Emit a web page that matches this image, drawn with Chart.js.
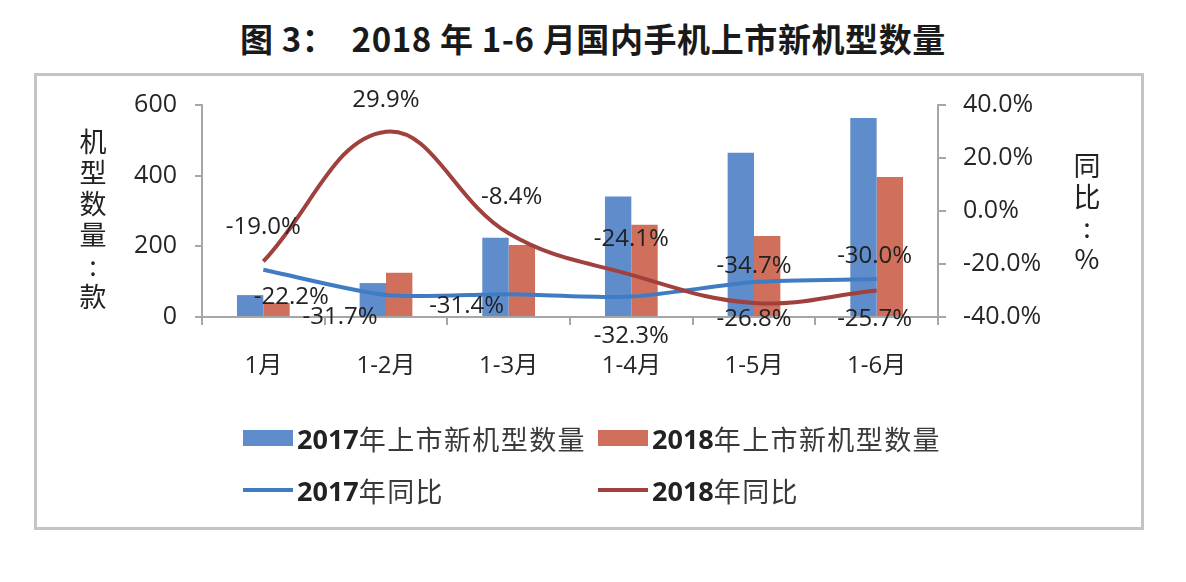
<!DOCTYPE html>
<html>
<head>
<meta charset="utf-8">
<script src="https://cdn.jsdelivr.net/npm/chart.js@4.4.1/dist/chart.umd.min.js"></script>
<style>
  html, body { margin: 0; padding: 0; background: #fff; }
  #wrap { position: relative; width: 1186px; height: 582px; overflow: hidden; }
  #chart { position: absolute; left: 0; top: 0; }
  .title {
    position: absolute; left: 0; top: 14px; width: 1186px; text-align: center;
    font: bold 33px "Noto Sans CJK SC", sans-serif; color: #1a1a1a; letter-spacing: 0.6px;
    white-space: pre;
  }
  .frame {
    position: absolute; left: 34px; top: 73px; width: 1110px; height: 457px;
    border: 3px solid #c4c4c4; box-sizing: border-box;
  }
  .axis-title {
    position: absolute; width: 40px; text-align: center; color: #222;
    font: 27px "Noto Sans CJK SC", sans-serif; line-height: 31px;
  }
  .legend-item {
    position: absolute; display: flex; align-items: center; height: 30px;
    font: 27px "Noto Sans CJK SC", sans-serif; color: #3a3a3a; white-space: nowrap;
  }
  .legend-item span.txt { letter-spacing: 1.4px; }
  .legend-item b { font: bold 27px "Open Sans", sans-serif; color: #222; }
  .swatch { display: inline-block; width: 50px; margin-right: 4px; }
</style>
</head>
<body>
<div id="wrap">
  <div class="frame"></div>
  <div class="title">图 3：  2018 年 1-6 月国内手机上市新机型数量</div>
  <canvas id="chart" width="1186" height="582"></canvas>
  <div class="axis-title" style="left:73px; top:125px;">机<br>型<br>数<br>量<br>:<br>款</div>
  <div class="axis-title" style="left:1067px; top:149px;">同<br>比<br>:<br>%</div>
  <div id="legend"></div>
</div>
<script>
// ======================================================
// DATA
// ======================================================

const periods = ["1月", "1-2月", "1-3月", "1-4月", "1-5月", "1-6月"];

// 上市新机型数量（款）
const models2017 = [62, 96, 224, 341, 465, 563];
const models2018 = [40, 125, 204, 261, 229, 396];

// 同比（%）
const yoy2017 = [-22.2, -31.7, -31.4, -32.3, -26.8, -25.7];
const yoy2018 = [-19.0, 29.9, -8.4, -24.1, -34.7, -30.0];

// axis ticks
const countTicks = { min: 0, max: 600, step: 200 };
const yoyTicks = { min: -40, max: 40, step: 20 };

// label offsets (px) relative to each line point
const offsets2017 = [[28, 27], [-46, 22], [-42, 12], [0, 40], [0, 37], [-2, 40]];
const offsets2018 = [[0, -34], [0, -32], [3, -36], [0, -36], [0, -37], [-2, -34]];

// ======================================================
// COLORS
// ======================================================

const BAR_2017 = "#5f8dcb";
const BAR_2018 = "#d0705c";
const LINE_2017 = "#3f7cc4";
const LINE_2018 = "#a0413e";
const AXIS_GRAY = "#a6a6a6";
const TEXT_DARK = "#262626";

Chart.defaults.font.family = '"Open Sans", "Noto Sans CJK SC", sans-serif';
Chart.defaults.color = TEXT_DARK;

// ======================================================
// DATA LABEL PLUGIN
// ======================================================

const pointLabels = {
  id: "pointLabels",
  afterDatasetsDraw(chart) {
    const ctx = chart.ctx;
    ctx.save();
    ctx.font = '24px "Open Sans", sans-serif';
    ctx.fillStyle = "#222222";
    ctx.textAlign = "center";
    ctx.textBaseline = "middle";
    chart.data.datasets.forEach((ds, i) => {
      if (!ds.labelOffsets) return;
      const meta = chart.getDatasetMeta(i);
      meta.data.forEach((pt, j) => {
        const [dx, dy] = ds.labelOffsets[j];
        ctx.fillText(ds.data[j].toFixed(1) + "%", pt.x + dx, pt.y + dy);
      });
    });
    ctx.restore();
  },
};

// ======================================================
// CHART
// ======================================================

const ctx = document.getElementById("chart").getContext("2d");

const chart = new Chart(ctx, {
  data: {
    labels: periods,
    datasets: [
      {
        type: "line",
        label: "2018年同比",
        data: yoy2018,
        yAxisID: "y1",
        borderColor: LINE_2018,
        borderWidth: 4,
        tension: 0.4,
        pointRadius: 0,
        fill: false,
        order: 1,
        labelOffsets: offsets2018,
      },
      {
        type: "line",
        label: "2017年同比",
        data: yoy2017,
        yAxisID: "y1",
        borderColor: LINE_2017,
        borderWidth: 4,
        tension: 0.25,
        pointRadius: 0,
        fill: false,
        order: 2,
        labelOffsets: offsets2017,
      },
      {
        type: "bar",
        label: "2017年上市新机型数量",
        data: models2017,
        yAxisID: "y",
        backgroundColor: BAR_2017,
        barPercentage: 1,
        categoryPercentage: 0.43,
        order: 3,
      },
      {
        type: "bar",
        label: "2018年上市新机型数量",
        data: models2018,
        yAxisID: "y",
        backgroundColor: BAR_2018,
        barPercentage: 1,
        categoryPercentage: 0.43,
        order: 3,
      },
    ],
  },
  options: {
    responsive: false,
    animation: false,
    layout: { padding: { top: 105, bottom: 0, left: 0, right: 0 } },
    plugins: {
      legend: { display: false },
      tooltip: { enabled: false },
    },
    scales: {
      x: {
        type: "category",
        afterFit: (scale) => { scale.height = 265; },
        border: { color: AXIS_GRAY, width: 2 },
        grid: {
          display: true,
          drawOnChartArea: false,
          tickLength: 8,
          color: AXIS_GRAY,
          lineWidth: 2,
        },
        ticks: {
          font: { size: 24 },
          color: TEXT_DARK,
          padding: 27,
          maxRotation: 0,
        },
      },
      y: {
        position: "left",
        min: countTicks.min,
        max: countTicks.max,
        afterFit: (scale) => { scale.width = 202; },
        border: { color: AXIS_GRAY, width: 2 },
        grid: {
          display: true,
          drawOnChartArea: false,
          tickLength: 7,
          color: AXIS_GRAY,
          lineWidth: 2,
        },
        ticks: {
          stepSize: countTicks.step,
          font: { size: 25 },
          color: TEXT_DARK,
          padding: 18,
        },
      },
      y1: {
        position: "right",
        min: yoyTicks.min,
        max: yoyTicks.max,
        afterFit: (scale) => { scale.width = 248; },
        border: { color: AXIS_GRAY, width: 2 },
        grid: {
          display: true,
          drawOnChartArea: false,
          tickLength: 8,
          color: AXIS_GRAY,
          lineWidth: 2,
        },
        ticks: {
          stepSize: yoyTicks.step,
          font: { size: 25 },
          color: TEXT_DARK,
          padding: 17,
          callback: (v) => v.toFixed(1) + "%",
        },
      },
    },
  },
  plugins: [pointLabels],
});

// ======================================================
// LEGEND (HTML)
// ======================================================

const legendSlots = [
  { ds: 2, left: 243, top: 423, kind: "box" },
  { ds: 3, left: 598, top: 423, kind: "box" },
  { ds: 1, left: 243, top: 475, kind: "line" },
  { ds: 0, left: 598, top: 475, kind: "line" },
];

const legendEl = document.getElementById("legend");

legendSlots.forEach((slot) => {
  const ds = chart.data.datasets[slot.ds];
  const color = slot.kind === "box" ? ds.backgroundColor : ds.borderColor;
  const year = ds.label.slice(0, 4);
  const rest = ds.label.slice(4);

  const item = document.createElement("div");
  item.className = "legend-item";
  item.style.left = slot.left + "px";
  item.style.top = slot.top + "px";

  const sw = document.createElement("span");
  sw.className = "swatch";
  sw.style.background = color;
  sw.style.height = slot.kind === "box" ? "16px" : "4px";

  const yr = document.createElement("b");
  yr.textContent = year;
  const txt = document.createElement("span");
  txt.className = "txt";
  txt.textContent = rest;

  item.appendChild(sw);
  item.appendChild(yr);
  item.appendChild(txt);
  legendEl.appendChild(item);
});
</script>
</body>
</html>
